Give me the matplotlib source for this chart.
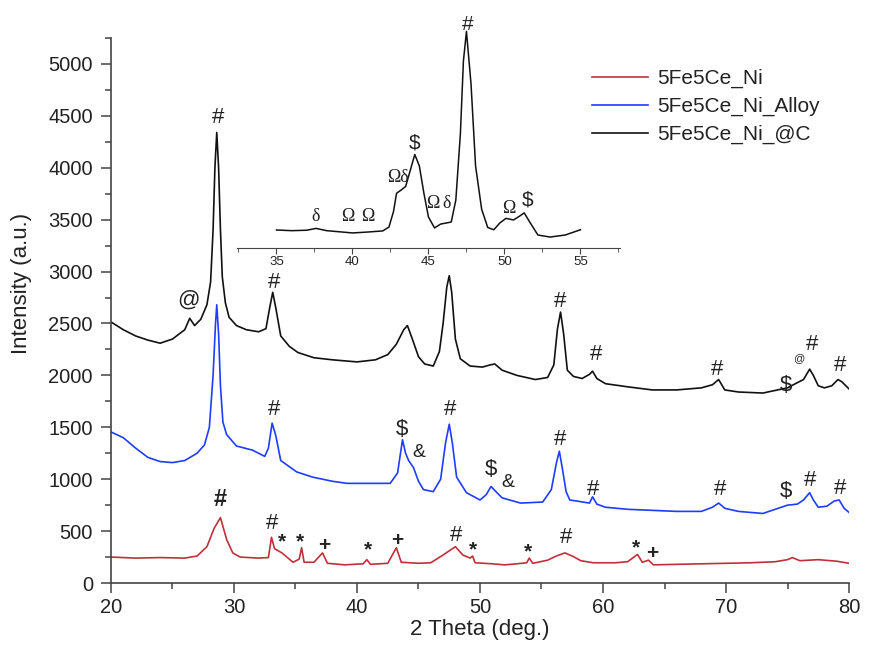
import matplotlib.pyplot as plt
from matplotlib.ticker import MultipleLocator

plt.rcParams['font.family'] = ['Liberation Sans', 'DejaVu Sans']

ni_x = [20, 22, 24, 26, 27, 27.8, 28.4, 28.9, 29.4, 29.9, 30.5, 32, 32.8, 33.05, 33.3,
        33.9, 34.8, 35.3, 35.5, 35.7, 36.5, 37.2, 37.6, 39, 40.5, 40.8, 41.1, 42.5, 43.2,
        43.6, 45, 46, 47, 48, 48.6, 49.2, 49.4, 49.6, 51, 52, 53, 53.8, 54.0, 54.3, 55.5,
        56.2, 56.9, 57.5, 58.2, 59.2, 61, 62, 62.4, 62.8, 63.2, 63.7, 64.1, 66, 68, 70,
        72, 74, 75, 75.4, 76, 77.5, 79, 80]
ni_y = [250, 240, 245, 240, 260, 350, 530, 630, 420, 290, 250, 240, 245, 440, 330,
        290, 200, 230, 340, 200, 200, 290, 190, 175, 185, 225, 180, 190, 340,
        200, 190, 195, 270, 350, 270, 240, 260, 195, 185, 175, 185, 195, 240, 190, 220,
        260, 290, 260, 215, 195, 195, 205, 240, 275, 200, 220, 175, 180, 185, 190,
        195, 205, 225, 245, 215, 225, 210, 190]

alloy_x = [20, 21, 22, 23, 24, 25, 26, 27, 27.6, 28.0, 28.3, 28.5, 28.6, 28.75, 28.9,
           29.1, 29.4, 30.2, 31.5, 32.5, 32.8, 33.1, 33.4, 33.8, 35.1, 36.4, 38, 39.2,
           41, 42.7, 43.3, 43.7, 43.95, 44.2, 44.6, 45.0, 45.4, 46.2, 46.8, 47.2, 47.5,
           47.75, 48.1, 48.9, 50, 50.5, 50.9, 51.3, 51.8, 53.3, 55.1, 55.8, 56.2, 56.45,
           56.7, 57.0, 57.3, 58.9, 59.15, 59.5, 60.2, 62, 64, 66, 68, 68.9, 69.4, 69.9,
           71, 73, 75, 75.8, 76.3, 76.8, 77.1, 77.5, 78.2, 78.8, 79.2, 79.6, 80]
alloy_y = [1455, 1400, 1300, 1210, 1170, 1160, 1180, 1250, 1330, 1500, 2000, 2500, 2680, 2400, 1900,
           1550, 1430, 1320, 1280, 1220, 1300, 1540, 1420, 1180, 1070, 1020, 980, 960,
           960, 960, 1060, 1380, 1250, 1180, 1110, 980, 900, 880, 1000, 1350, 1530,
           1350, 1020, 870, 800, 850, 930, 880, 820, 770, 780, 900, 1150, 1270,
           1100, 880, 800, 770, 830, 760, 730, 710, 700, 690, 690, 730, 770, 720,
           690, 670, 750, 760, 800, 870, 800, 730, 740, 790, 800, 720, 680]

c_x = [20, 21, 22, 23, 24, 25, 26, 26.4, 26.8, 27.3, 27.8, 28.1, 28.3, 28.45, 28.6,
       28.75, 28.9, 29.05, 29.3, 29.6, 30.2, 31, 32, 32.6, 32.9, 33.15, 33.4, 33.8, 34.5,
       35.2, 36.5, 38, 40, 41.5, 42.5, 43.2, 43.8, 44.1, 44.5, 45.0, 45.5, 46.2, 46.7,
       47.0, 47.3, 47.5, 47.7, 48.0, 48.4, 49.2, 50.2, 50.8, 51.2, 51.8, 53, 54.5, 55.5,
       56.0, 56.3, 56.55, 56.8, 57.1, 57.6, 58.3, 58.9, 59.15, 59.5, 60.2, 62, 64, 66,
       68, 68.9, 69.4, 69.9, 71, 73, 75, 75.8, 76.3, 76.8, 77.1, 77.5, 78.0, 78.6, 79.1,
       79.4, 80]
c_y = [2515, 2440, 2380, 2340, 2310, 2350, 2440, 2550, 2480, 2540, 2680, 2900, 3400, 4000, 4340,
       4000, 3400, 2950, 2700, 2560, 2480, 2440, 2420, 2450, 2650, 2800, 2650, 2380, 2280,
       2220, 2170, 2150, 2130, 2150, 2200, 2300, 2440, 2480, 2350, 2180, 2110, 2090, 2230,
       2500, 2850, 2960, 2800, 2350, 2160, 2090, 2080, 2100, 2110, 2050, 2000, 1960, 1980,
       2100, 2450, 2610, 2400, 2050, 1990, 1970, 2010, 2040, 1970, 1920, 1890, 1860, 1860,
       1880, 1910, 1960, 1860, 1840, 1830, 1880, 1930, 1960, 2060, 2000, 1900, 1880, 1900, 1960,
       1940, 1870]

# Detalle 35-55 de la muestra @C (unidades relativas)
ins_x = [35, 36, 37, 37.6, 38.3, 39, 40, 41, 42, 42.4, 42.7, 42.9, 43.2, 43.5, 43.8, 44.1,
         44.4, 44.7, 45.0, 45.4, 45.8, 46.2, 46.5, 46.8, 47.1, 47.3, 47.5, 47.8, 48.1, 48.5,
         48.9, 49.3, 49.7, 50.1, 50.6, 51.0, 51.3, 51.7, 52.2, 53, 54, 55]
ins_y = [7.9, 7.6, 7.8, 8.6, 7.6, 7.2, 6.6, 7.0, 7.5, 9.2, 16, 24, 25.4, 27, 34, 41,
         36, 24, 13.6, 8.8, 10.5, 11, 11.4, 21, 50, 82, 95, 72, 36, 17,
         9, 8, 11, 13, 12.3, 14, 15.4, 11, 5.7, 4.8, 5.7, 8]

labels = ['5Fe5Ce_Ni', '5Fe5Ce_Ni_Alloy', '5Fe5Ce_Ni_@C']

fig = plt.figure(figsize=(8.69, 6.45), dpi=100)
ax = fig.add_axes([0.1277, 0.0961, 0.8493, 0.845])

ax.plot(ni_x, ni_y, color='#c0303a', lw=1.2, label=labels[0])
ax.plot(alloy_x, alloy_y, color='#1f3cff', lw=1.2, label=labels[1])
ax.plot(c_x, c_y, color='#111111', lw=1.2, label=labels[2])

ax.set_xlim(20, 80)
ax.set_ylim(0, 5250)
ax.xaxis.set_major_locator(MultipleLocator(10))
ax.xaxis.set_minor_locator(MultipleLocator(5))
ax.yaxis.set_major_locator(MultipleLocator(500))
ax.yaxis.set_minor_locator(MultipleLocator(250))
ax.spines['top'].set_visible(False)
ax.spines['right'].set_visible(False)
for s in ['left', 'bottom']:
    ax.spines[s].set_color('#444444')
    ax.spines[s].set_linewidth(1.2)
ax.tick_params(which='major', direction='out', length=7, width=1.1, color='#444444',
               labelsize=14.5, labelcolor='#222222')
ax.tick_params(which='minor', direction='out', length=4, width=1.1, color='#444444')
ax.tick_params(axis='x', pad=4)
ax.tick_params(axis='y', pad=6)

ax.set_xlabel('2 Theta (deg.)', fontsize=16, color='#222222')
ax.set_ylabel('Intensity (a.u.)', fontsize=16, color='#222222')
ax.xaxis.set_label_coords(0.5, -0.066)
ax.yaxis.set_label_coords(-0.107, 0.55)

leg = fig.legend(loc='upper left', bbox_to_anchor=(0.681, 0.893), frameon=False,
                 fontsize=15, handlelength=2.7, handletextpad=0.45, labelspacing=0.42,
                 borderpad=0, borderaxespad=0)
for t in leg.get_texts():
    t.set_color('#222222')

# Marcas de fases
def mark(x, y, s, size=16, weight='normal'):
    ax.text(x, y, s, ha='center', va='center', fontsize=size, weight=weight, color='#222222')

# @C
mark(26.3, 2726, '@', 16)
mark(28.7, 4480, '#')
mark(33.25, 2890, '#')
mark(56.5, 2707, '#')
mark(59.4, 2197, '#')
mark(69.3, 2052, '#')
mark(74.9, 1898, '$')
mark(75.9, 2168, '@', 8)
mark(77.0, 2293, '#')
mark(79.3, 2100, '#')
# Alloy
mark(33.25, 1667, '#')
mark(43.7, 1474, '$')
mark(45.0, 1262, '&', 14)
mark(47.6, 1667, '#')
mark(50.9, 1089, '$')
mark(52.3, 973, '&', 14)
mark(56.5, 1378, '#')
mark(59.2, 896, '#')
mark(69.5, 896, '#')
mark(74.9, 877, '$')
mark(76.8, 992, '#')
mark(79.3, 915, '#')
# Ni
mark(28.9, 800, '#', 17, 'bold')
mark(33.1, 578, '#')
for sx, sy in [(33.9, 395), (35.4, 395), (40.9, 318), (49.4, 318), (53.9, 299), (62.7, 337)]:
    mark(sx, sy, '*', 15, 'bold')
for px, py in [(37.3, 366), (43.3, 414), (64.0, 289)]:
    mark(px, py, '+', 15, 'bold')
mark(48.05, 462, '#')
mark(57.0, 434, '#')

# Recuadro
axi = fig.add_axes([0.2727, 0.6155, 0.4407, 0.3535])
axi.patch.set_alpha(0)
axi.plot(ins_x, ins_y, color='#111111', lw=1.1)
axi.set_xlim(32.4, 57.6)
axi.set_ylim(0, 100)
for s in ['top', 'right', 'left']:
    axi.spines[s].set_visible(False)
axi.spines['bottom'].set_color('#444444')
axi.set_yticks([])
axi.xaxis.set_major_locator(MultipleLocator(5))
axi.xaxis.set_minor_locator(MultipleLocator(2.5))
axi.tick_params(which='major', direction='out', length=4, color='#444444', labelsize=9.5,
                labelcolor='#222222', pad=2)
axi.tick_params(which='minor', direction='out', length=3, color='#444444')

serif = ['Liberation Serif', 'DejaVu Serif']
for tx, ty, s in [(37.6, 13.6, 'δ'), (39.7, 13.6, 'Ω'), (41.0, 13.6, 'Ω'), (43.0, 31, 'Ωδ'),
                  (45.3, 19.7, 'Ω'), (46.2, 19.7, 'δ'), (50.3, 17.5, 'Ω')]:
    axi.text(tx, ty, s, ha='center', va='center', fontsize=13, family=serif, color='#222222')
axi.text(44.1, 46, '$', ha='center', va='center', fontsize=15, color='#222222')
axi.text(47.6, 98, '#', ha='center', va='center', fontsize=15, color='#222222')
axi.text(51.5, 21, '$', ha='center', va='center', fontsize=15, color='#222222')

fig.savefig('out.png', dpi=100)
